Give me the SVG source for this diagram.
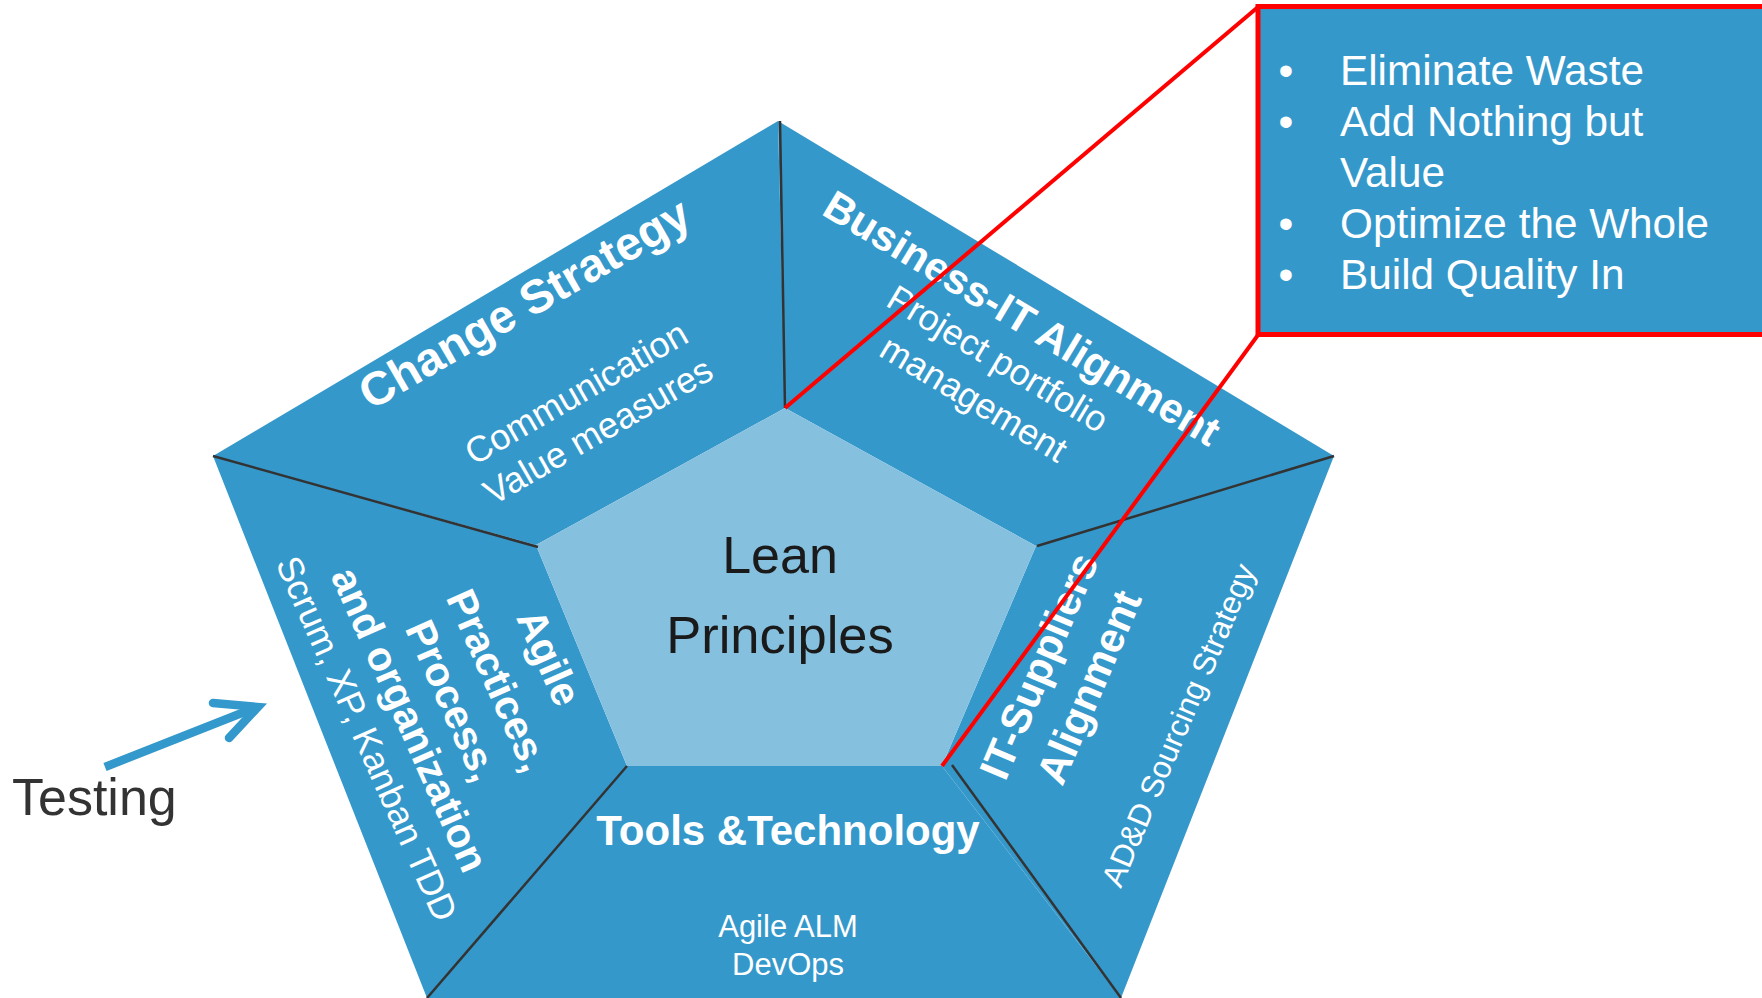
<svg xmlns="http://www.w3.org/2000/svg" width="1762" height="998" viewBox="0 0 1762 998">
  <style>
    .seg { fill: #3598CB; }
    .inner { fill: #85C0DF; }
    .div { stroke: #333333; stroke-width: 2.5; fill: none; }
    .red { stroke: #FF0000; stroke-width: 4; fill: none; }
    .t { font-family: "Liberation Sans", Arial, sans-serif; fill: #FFFFFF; text-anchor: middle; }
    .b { font-weight: bold; }
    .box { font-family: "Liberation Sans", Arial, sans-serif; fill: #FFFFFF; font-size: 42.3px; }
  </style>
  <rect x="0" y="0" width="1762" height="998" fill="#FFFFFF"/>

  <g id="seg-change">
    <polygon class="seg" points="778,121 785,408 536,545 213,456"/>
    <g transform="rotate(-30)">
      <text class="t b" x="302.5" y="541" font-size="47">Change Strategy</text>
      <text class="t" x="302.5" y="640.5" font-size="36">Communication</text>
      <text class="t" x="302.5" y="684.5" font-size="36">Value measures</text>
    </g>
  </g>

  <g id="seg-business">
    <polygon class="seg" points="778,121 1334,456 1036,546 785,408"/>
  </g>

  <g id="seg-suppliers">
    <polygon class="seg" points="1334,456 1121,998 942,766 1036,546"/>
  </g>

  <g id="seg-tools">
    <polygon class="seg" points="627,766 942,766 1121,998 427,998"/>
    <text class="t b" x="788" y="845" font-size="42">Tools &amp;Technology</text>
    <text class="t" x="788" y="937" font-size="31">Agile ALM</text>
    <text class="t" x="788" y="975" font-size="31">DevOps</text>
  </g>

  <g id="seg-agile">
    <polygon class="seg" points="213,456 536,545 627,766 427,998"/>
    <g transform="rotate(66)">
      <text class="t b" x="824" y="-220" font-size="41">Agile</text>
      <text class="t b" x="824" y="-164" font-size="41">Practices,</text>
      <text class="t b" x="824" y="-114" font-size="41">Process,</text>
      <text class="t b" x="824" y="-67.7" font-size="41">and organization</text>
      <text class="t" x="824" y="-22.3" font-size="36">Scrum, XP, Kanban TDD</text>
    </g>
  </g>

  <g id="center-lean">
    <polygon class="inner" points="785,408 1036,546 942,766 627,766 536,545"/>
    <text x="780" y="573" font-family="Liberation Sans, Arial, sans-serif" font-size="52" fill="#1A1A1A" text-anchor="middle">Lean</text>
    <text x="780" y="653" font-family="Liberation Sans, Arial, sans-serif" font-size="52.5" fill="#1A1A1A" text-anchor="middle">Principles</text>
  </g>

  <g id="dividers">
    <line class="div" x1="780" y1="121" x2="785" y2="408"/>
    <line class="div" x1="213" y1="456" x2="538" y2="547"/>
    <line class="div" x1="1334" y1="456" x2="1037" y2="546"/>
    <line class="div" x1="427" y1="998" x2="627" y2="766"/>
    <line class="div" x1="952" y1="765" x2="1121" y2="998"/>
  </g>

  <g id="seg-business-text">
    <g transform="rotate(31)">
      <text class="t b" x="1040" y="-239.3" font-size="42">Business-IT Alignment</text>
      <text class="t" x="1040" y="-194" font-size="36">Project portfolio</text>
      <text class="t" x="1040" y="-147.5" font-size="36">management</text>
    </g>
  </g>

  <g id="seg-suppliers-text">
    <g transform="rotate(-67)">
      <text class="t b" x="-207" y="1231" font-size="42">IT-Suppliers</text>
      <text class="t b" x="-207" y="1285.5" font-size="42">Alignment</text>
      <text class="t" x="-207" y="1379" font-size="31.5">AD&amp;D Sourcing Strategy</text>
    </g>
  </g>

  <g id="connectors">
    <line class="red" x1="785" y1="408" x2="1258" y2="7"/>
    <line class="red" x1="1258" y1="335" x2="942" y2="766"/>
    <line x1="105" y1="767" x2="252" y2="709" stroke="#3399CC" stroke-width="8.5"/>
    <path d="M 213 703 L 258 707 L 229 738" fill="none" stroke="#3399CC" stroke-width="8.5" stroke-linecap="round" stroke-linejoin="miter"/>
  </g>

  <g id="callout-box">
    <rect x="1258" y="6.5" width="520" height="328" fill="#3598CB" stroke="#FF0000" stroke-width="5"/>
    <text class="box" x="1278.6" y="85">•</text>
    <text class="box" x="1340" y="85">Eliminate Waste</text>
    <text class="box" x="1278.6" y="136">•</text>
    <text class="box" x="1340" y="136">Add Nothing but</text>
    <text class="box" x="1340" y="187">Value</text>
    <text class="box" x="1278.6" y="238">•</text>
    <text class="box" x="1340" y="238">Optimize the Whole</text>
    <text class="box" x="1278.6" y="289">•</text>
    <text class="box" x="1340" y="289">Build Quality In</text>
  </g>

  <g id="testing-label">
    <text x="12" y="815" font-family="Liberation Sans, Arial, sans-serif" font-size="52" fill="#333333">Testing</text>
  </g>
</svg>
